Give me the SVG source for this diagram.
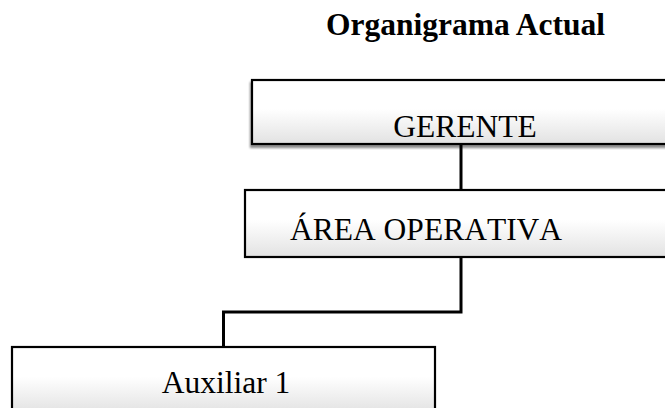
<svg xmlns="http://www.w3.org/2000/svg" width="665" height="408" viewBox="0 0 665 408">
  <defs>
    <linearGradient id="boxFill" x1="0" y1="0" x2="0" y2="1">
      <stop offset="0" stop-color="#ffffff"/>
      <stop offset="0.45" stop-color="#ffffff"/>
      <stop offset="1" stop-color="#e2e2e2"/>
    </linearGradient>
    <filter id="shadow" x="-5%" y="-10%" width="110%" height="130%">
      <feGaussianBlur in="SourceAlpha" stdDeviation="1.2"/>
      <feOffset dx="-1" dy="2.5" result="b"/>
      <feComponentTransfer><feFuncA type="linear" slope="0.45"/></feComponentTransfer>
      <feMerge><feMergeNode/><feMergeNode in="SourceGraphic"/></feMerge>
    </filter>
  </defs>
  <style>
    .box { fill: url(#boxFill); stroke: #000; stroke-width: 2.2; }
    .lbl { font-family: "Liberation Serif", "Times New Roman", serif; font-size: 31.5px; font-kerning: none; fill: #000; }
    .title { font-family: "Liberation Serif", "Times New Roman", serif; font-size: 31.5px; font-weight: bold; fill: #000; }
    .conn { fill: none; stroke: #000; stroke-width: 3; stroke-linejoin: miter; }
  </style>

  <rect width="665" height="408" fill="#ffffff"/>

  <text class="title" x="326" y="35">Organigrama Actual</text>

  <g id="connectors">
    <path class="conn" d="M461 144 V190"/>
    <path class="conn" d="M461 257 V312 H223.5 V347"/>
  </g>

  <g id="gerente">
    <rect class="box" x="252" y="80" width="416" height="64" filter="url(#shadow)"/>
    <text class="lbl" x="465" y="137" text-anchor="middle">GERENTE</text>
  </g>

  <g id="area-operativa">
    <rect class="box" x="245" y="190" width="423" height="67"/>
    <text class="lbl" x="290" y="240">ÁREA OPERATIVA</text>
  </g>

  <g id="auxiliar-1">
    <rect class="box" x="12" y="347" width="423" height="66"/>
    <text class="lbl" x="226" y="393" text-anchor="middle">Auxiliar 1</text>
  </g>
</svg>
